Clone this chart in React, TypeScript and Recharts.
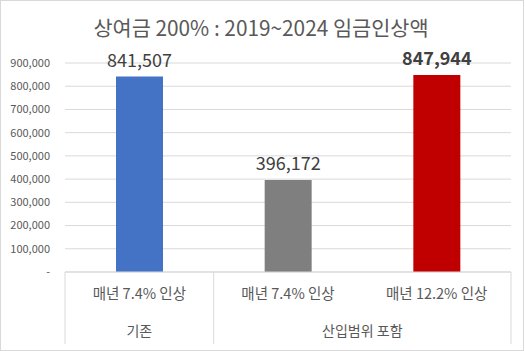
import React from 'react';
import { BarChart, Bar, XAxis, YAxis, CartesianGrid, Cell, LabelList } from 'recharts';

const categories = ['매년 7.4% 인상', '매년 7.4% 인상', '매년 12.2% 인상'];
const groups = ['기존', '산입범위 포함', '산입범위 포함'];
const values = [841507, 396172, 847944];
const barColors = ['#4472C4', '#7F7F7F', '#C00000'];
const boldLabels = [false, false, true];
const yTicks = [0, 100000, 200000, 300000, 400000, 500000, 600000, 700000, 800000, 900000];
const title = '상여금 200% : 2019~2024 임금인상액';

const W = 525;
const H = 351;
const MARGIN = { top: 63, right: 14, bottom: 7, left: 0 };
const Y_AXIS_W = 65;
const X_AXIS_H = 72;
const BAND = (W - MARGIN.left - MARGIN.right - Y_AXIS_W) / categories.length;

const data = categories.map((c, i) => ({ key: `c${i}`, label: c, group: groups[i], value: values[i] }));

const fmt = (v: number) => (v === 0 ? '-' : v.toLocaleString('en-US'));

const CatTick = (props: any) => {
  const { x, y, index } = props;
  const i = index as number;
  const els: React.ReactNode[] = [];
  const line = '#D9D9D9';
  const isGroupStart = i === 0 || groups[i - 1] !== groups[i];
  if (isGroupStart) {
    els.push(<line key="l" x1={x - BAND / 2} x2={x - BAND / 2} y1={y} y2={y + X_AXIS_H} stroke={line} />);
    let span = 1;
    while (i + span < groups.length && groups[i + span] === groups[i]) span++;
    els.push(
      <text key="g" x={x + ((span - 1) * BAND) / 2} y={y + 60} textAnchor="middle" dominantBaseline="middle" fontSize={14} fill="#595959">
        {groups[i]}
      </text>
    );
  }
  if (i === categories.length - 1) {
    els.push(<line key="r" x1={x + BAND / 2} x2={x + BAND / 2} y1={y} y2={y + X_AXIS_H} stroke={line} />);
  }
  els.push(
    <text key="t" x={x} y={y + 23} textAnchor="middle" dominantBaseline="middle" fontSize={14.5} fill="#595959">
      {categories[i]}
    </text>
  );
  return <g>{els}</g>;
};

const ValueLabel = (props: any) => {
  const { x, y, width, index, value } = props;
  return (
    <text x={x + width / 2} y={y - 10} textAnchor="middle" fontSize={18} fill="#404040" fontWeight={boldLabels[index] ? 700 : 400}>
      {fmt(value)}
    </text>
  );
};

export default function App() {
  return (
    <div style={{ position: 'fixed', left: 0, top: 0, width: W, height: H, background: '#fff', fontFamily: '"Noto Sans CJK KR", "Noto Sans", sans-serif' }}>
      <BarChart width={W} height={H} data={data} margin={MARGIN}>
        <CartesianGrid vertical={false} stroke="#D9D9D9" />
        <XAxis
          dataKey="key"
          height={X_AXIS_H}
          tickLine={false}
          tickSize={0}
          tickMargin={0}
          axisLine={{ stroke: '#D9D9D9' }}
          tick={<CatTick />}
          interval={0}
        />
        <YAxis
          width={Y_AXIS_W}
          domain={[0, 900000]}
          ticks={yTicks}
          tickFormatter={fmt}
          axisLine={false}
          tickLine={false}
          tickMargin={9}
          tick={{ fontSize: 11, fill: '#595959' }}
          interval={0}
        />
        <Bar dataKey="value" barSize={47} isAnimationActive={false}>
          {data.map((d, i) => (
            <Cell key={d.key} fill={barColors[i]} />
          ))}
          <LabelList dataKey="value" content={<ValueLabel />} />
        </Bar>
      </BarChart>
      <svg width={W} height={H} style={{ position: 'absolute', left: 0, top: 0, pointerEvents: 'none' }}>
        <rect x={0.5} y={0.5} width={523} height={350} fill="none" stroke="#D9D9D9" />
        <text x={261} y={36} textAnchor="middle" fontSize={20.8} fill="#595959">
          {title}
        </text>
      </svg>
    </div>
  );
}
